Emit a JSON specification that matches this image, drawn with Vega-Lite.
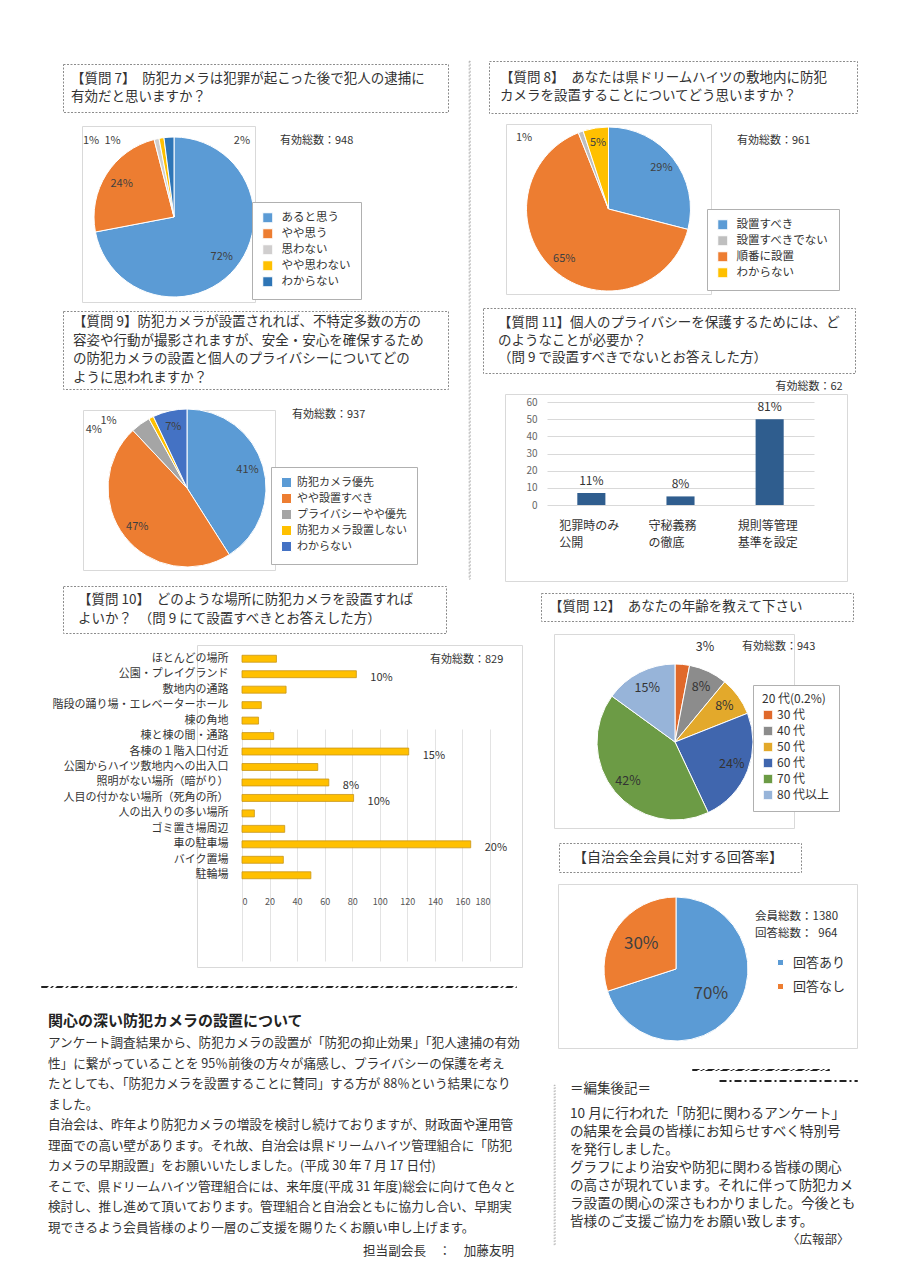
{
"$schema":"https://vega.github.io/schema/vega-lite/v6.json",
"padding":0,
"background":"white",
"spacing":0,
"resolve":{"scale":{"color":"independent","theta":"independent","x":"independent","y":"independent"},"legend":{"color":"independent"},"axis":{"x":"independent","y":"independent"}},
"config":{
 "view":{"stroke":null},
 "font":"Noto Sans CJK JP",
 "text":{"font":"Noto Sans CJK JP","color":"#333333","fontSize":13,"align":"left","baseline":"middle"},
 "title":{"font":"Noto Sans CJK JP","fontWeight":"normal","color":"#333333","fontSize":11,"anchor":"start","frame":"group","baseline":"top","offset":0,"orient":"top"},
 "legend":{"labelFont":"Noto Sans CJK JP","titleFont":"Noto Sans CJK JP","labelColor":"#333333","titleColor":"#333333","labelFontSize":11.5,"symbolType":"square","symbolSize":100,"symbolStrokeWidth":0,"orient":"none","labelLimit":300},
 "axis":{"labelFont":"Noto Sans CJK JP","labelColor":"#555555","domain":false,"ticks":false},
 "arc":{"stroke":"white","strokeWidth":1}
},
"vconcat":[
 {"width":1,"height":60,"data":{"values":[{}]},"mark":{"type":"text","text":""}},
 {"resolve":{"scale":{"color":"independent","theta":"independent","x":"independent","y":"independent"},"legend":{"color":"independent"},"axis":{"x":"independent","y":"independent"}},
  "hconcat":[
  {"width":62,"height":1,"data":{"values":[]},"mark":{"type":"text"}},
  {"resolve":{"scale":{"color":"independent","theta":"independent","x":"independent","y":"independent"},"legend":{"color":"independent"},"axis":{"x":"independent","y":"independent"}},
   "vconcat":[
   {"width":1,"height":2,"data":{"values":[]},"mark":{"type":"text"}},
   {"width":385,"height":48,"view":{"stroke":"#8c8c8c","strokeDash":[2,1.5]},
    "data":{"values":[{"l":0,"t":"【質問 7】　防犯カメラは犯罪が起こった後で犯人の逮捕に"},{"l":1,"t":"\u2002\u2005有効だと思いますか？"}]},
    "mark":{"type":"text","fontSize":13.5},
    "encoding":{"x":{"value":8},"y":{"field":"l","type":"ordinal","axis":null,"scale":{"padding":0.833}},"text":{"field":"t","type":"nominal"}}},
   {"width":1,"height":12,"data":{"values":[]},"mark":{"type":"text"}},
   {"hconcat":[
    {"width":18,"height":1,"data":{"values":[]},"mark":{"type":"text"}},
    {"width":173,"height":176,"view":{"stroke":"#d9d9d9"},
     "title":{"text":"有効総数：948","dx":198,"dy":24},
     "data":{"values":[{"c":"あると思う","v":72,"o":1,"lab":"72%"},{"c":"やや思う","v":24,"o":2,"lab":"24%"},{"c":"思わない","v":1,"o":3,"lab":"1%"},{"c":"やや思わない","v":1,"o":4,"lab":"1%"},{"c":"わからない","v":2,"o":5,"lab":"2%"}]},
     "encoding":{"theta":{"field":"v","type":"quantitative","stack":true},"order":{"field":"o","type":"quantitative"}},
     "layer":[
      {"mark":{"type":"arc","outerRadius":80,"xOffset":5.5,"yOffset":3},
       "encoding":{"color":{"field":"c","type":"nominal","scale":{"domain":["あると思う","やや思う","思わない","やや思わない","わからない"],"range":["#5B9BD5","#ED7D31","#D0CECE","#FFC000","#2E75B6"]},
        "legend":{"legendX":189,"legendY":76,"title":null,"padding":10,"strokeColor":"#b0b0b0","fillColor":"white","rowPadding":1,"labelOffset":8}}}},
      {"mark":{"type":"text","radius":62,"xOffset":5.5,"yOffset":3,"align":"center","fontSize":11,"color":"#404040"},
       "encoding":{"detail":{"field":"c","type":"nominal"},"text":{"condition":{"test":"datum.v >= 5","field":"lab","type":"nominal"},"value":""}}},
      {"transform":[{"stack":"v","groupby":[],"sort":[{"field":"o","order":"ascending"}],"as":["s0","s1"]},{"filter":"datum.c == '思わない'"}],
       "mark":{"type":"text","radius":88,"xOffset":5.5,"yOffset":3,"dx":-61,"dy":9,"align":"center","fontSize":11,"color":"#404040"},
       "encoding":{"theta":{"field":"s0","type":"quantitative","stack":null},"text":{"field":"lab","type":"nominal"}}},
      {"transform":[{"stack":"v","groupby":[],"sort":[{"field":"o","order":"ascending"}],"as":["s0","s1"]},{"filter":"datum.c == 'やや思わない'"}],
       "mark":{"type":"text","radius":88,"xOffset":5.5,"yOffset":3,"dx":-45,"dy":10,"align":"center","fontSize":11,"color":"#404040"},
       "encoding":{"theta":{"field":"s0","type":"quantitative","stack":null},"text":{"field":"lab","type":"nominal"}}},
      {"transform":[{"stack":"v","groupby":[],"sort":[{"field":"o","order":"ascending"}],"as":["s0","s1"]},{"filter":"datum.c == 'わからない'"}],
       "mark":{"type":"text","radius":88,"xOffset":5.5,"yOffset":3,"dx":79,"dy":11,"align":"center","fontSize":11,"color":"#404040"},
       "encoding":{"theta":{"field":"s0","type":"quantitative","stack":null},"text":{"field":"lab","type":"nominal"}}}
     ]}
   ],"spacing":0},
   {"width":1,"height":7,"data":{"values":[]},"mark":{"type":"text"}},
   {"width":385,"height":78,"view":{"stroke":"#8c8c8c","strokeDash":[2,1.5]},
    "data":{"values":[{"l":0,"t":"【質問 9】防犯カメラが設置されれば、不特定多数の方の"},{"l":1,"t":"　容姿や行動が撮影されますが、安全・安心を確保するため"},{"l":2,"t":"　の防犯カメラの設置と個人のプライバシーについてどの"},{"l":3,"t":"　ように思われますか？"}]},
    "mark":{"type":"text","fontSize":13.5},
    "encoding":{"x":{"value":10},"y":{"field":"l","type":"ordinal","axis":null,"scale":{"padding":0.608}},"text":{"field":"t","type":"nominal"}}},
   {"width":1,"height":16,"data":{"values":[]},"mark":{"type":"text"}},
   {"hconcat":[
    {"width":19,"height":1,"data":{"values":[]},"mark":{"type":"text"}},
    {"width":192,"height":160,"view":{"stroke":"#d9d9d9"},
     "title":{"text":"有効総数：937","dx":209,"dy":17},
     "data":{"values":[{"c":"防犯カメラ優先","v":41,"o":1,"lab":"41%"},{"c":"やや設置すべき","v":47,"o":2,"lab":"47%"},{"c":"プライバシーやや優先","v":4,"o":3,"lab":"4%"},{"c":"防犯カメラ設置しない","v":1,"o":4,"lab":"1%"},{"c":"わからない","v":7,"o":5,"lab":"7%"}]},
     "encoding":{"theta":{"field":"v","type":"quantitative","stack":true},"order":{"field":"o","type":"quantitative"}},
     "layer":[
      {"mark":{"type":"arc","outerRadius":79,"xOffset":8,"yOffset":-2},
       "encoding":{"color":{"field":"c","type":"nominal","scale":{"domain":["防犯カメラ優先","やや設置すべき","プライバシーやや優先","防犯カメラ設置しない","わからない"],"range":["#5B9BD5","#ED7D31","#A5A5A5","#FFC000","#4472C4"]},
        "legend":{"legendX":208,"legendY":57,"title":null,"padding":10,"strokeColor":"#b0b0b0","fillColor":"white","rowPadding":1,"labelOffset":5,"labelFontSize":11}}}},
      {"mark":{"type":"text","radius":63,"xOffset":8,"yOffset":-2,"align":"center","fontSize":11,"color":"#404040"},
       "encoding":{"detail":{"field":"c","type":"nominal"},"text":{"condition":{"test":"datum.v >= 5","field":"lab","type":"nominal"},"value":""}}},
      {"transform":[{"stack":"v","groupby":[],"sort":[{"field":"o","order":"ascending"}],"as":["s0","s1"]},{"filter":"datum.c == 'プライバシーやや優先'"}],
       "mark":{"type":"text","radius":88,"xOffset":8,"yOffset":-2,"dx":-33,"dy":6,"align":"center","fontSize":11,"color":"#404040"},
       "encoding":{"theta":{"field":"s0","type":"quantitative","stack":null},"text":{"field":"lab","type":"nominal"}}},
      {"transform":[{"stack":"v","groupby":[],"sort":[{"field":"o","order":"ascending"}],"as":["s0","s1"]},{"filter":"datum.c == '防犯カメラ設置しない'"}],
       "mark":{"type":"text","radius":88,"xOffset":8,"yOffset":-2,"dx":-36,"dy":10,"align":"center","fontSize":11,"color":"#404040"},
       "encoding":{"theta":{"field":"s0","type":"quantitative","stack":null},"text":{"field":"lab","type":"nominal"}}}
     ]}
   ],"spacing":0}
  ],"spacing":0},
  {"width":19,"height":1,"data":{"values":[]},"mark":{"type":"text"}},
  {"width":1,"height":518,"view":{"stroke":"#999999","strokeWidth":0.7,"strokeDash":[2,1.5]},"data":{"values":[]},"mark":{"type":"text"}},
  {"width":11,"height":1,"data":{"values":[]},"mark":{"type":"text"}},
  {"resolve":{"scale":{"color":"independent","theta":"independent","x":"independent","y":"independent"},"legend":{"color":"independent"},"axis":{"x":"independent","y":"independent"}},
   "vconcat":[
   {"hconcat":[
    {"width":5,"height":1,"data":{"values":[]},"mark":{"type":"text"}},
    {"width":368,"height":52,"view":{"stroke":"#8c8c8c","strokeDash":[2,1.5]},
     "data":{"values":[{"l":0,"t":"【質問 8】　あなたは県ドリームハイツの敷地内に防犯"},{"l":1,"t":"カメラを設置することについてどう思いますか？"}]},
     "mark":{"type":"text","fontSize":13.5},
     "encoding":{"x":{"value":11},"y":{"field":"l","type":"ordinal","axis":null,"scale":{"padding":0.944}},"text":{"field":"t","type":"nominal"}}}
   ],"spacing":0},
   {"width":1,"height":9,"data":{"values":[]},"mark":{"type":"text"}},
   {"hconcat":[
    {"width":22,"height":1,"data":{"values":[]},"mark":{"type":"text"}},
    {"width":205,"height":170,"view":{"stroke":"#d9d9d9"},
     "title":{"text":"有効総数：961","dx":231,"dy":26},
     "data":{"values":[{"c":"設置すべき","v":29,"o":1,"lab":"29%"},{"c":"順番に設置","v":65,"o":2,"lab":"65%"},{"c":"設置すべきでない","v":1,"o":3,"lab":"1%"},{"c":"わからない","v":5,"o":4,"lab":"5%"}]},
     "encoding":{"theta":{"field":"v","type":"quantitative","stack":true},"order":{"field":"o","type":"quantitative"}},
     "layer":[
      {"mark":{"type":"arc","outerRadius":82},
       "encoding":{"color":{"field":"c","type":"nominal","scale":{"domain":["設置すべき","設置すべきでない","順番に設置","わからない"],"range":["#5B9BD5","#BFBFBF","#ED7D31","#FFC000"]},
        "legend":{"legendX":224,"legendY":85,"title":null,"padding":10,"strokeColor":"#b0b0b0","fillColor":"white","rowPadding":1,"labelOffset":8}}}},
      {"mark":{"type":"text","radius":67,"align":"center","fontSize":11,"color":"#404040"},
       "encoding":{"detail":{"field":"c","type":"nominal"},"text":{"condition":{"test":"datum.v >= 5","field":"lab","type":"nominal"},"value":""}}},
      {"transform":[{"stack":"v","groupby":[],"sort":[{"field":"o","order":"ascending"}],"as":["s0","s1"]},{"filter":"datum.c == '設置すべきでない'"}],
       "mark":{"type":"text","radius":88,"dx":-52,"dy":11,"align":"center","fontSize":11,"color":"#404040"},
       "encoding":{"theta":{"field":"s0","type":"quantitative","stack":null},"text":{"field":"lab","type":"nominal"}}}
     ]}
   ],"spacing":0},
   {"width":1,"height":12,"data":{"values":[]},"mark":{"type":"text"}},
   {"width":372,"height":65,"view":{"stroke":"#8c8c8c","strokeDash":[2,1.5]},
    "data":{"values":[{"l":0,"t":"【質問 11】個人のプライバシーを保護するためには、ど"},{"l":1,"t":"\u2002のようなことが必要か？"},{"l":2,"t":"　　　（問 9 で設置すべきでないとお答えした方）"}]},
    "mark":{"type":"text","fontSize":13.5},
    "encoding":{"x":{"value":15},"y":{"field":"l","type":"ordinal","axis":null,"scale":{"padding":0.857}},"text":{"field":"t","type":"nominal"}}},
   {"width":1,"height":7,"data":{"values":[]},"mark":{"type":"text"}},
   {"hconcat":[
    {"width":292,"height":1,"data":{"values":[]},"mark":{"type":"text"}},
    {"width":66,"height":12,"data":{"values":[{"t":"有効総数：62"}]},"mark":{"type":"text","align":"center","fontSize":11},"encoding":{"text":{"field":"t","type":"nominal"}}}
   ],"spacing":0},
   {"hconcat":[
    {"width":21,"height":1,"data":{"values":[]},"mark":{"type":"text"}},
    {"width":342,"height":187,"view":{"stroke":"#d9d9d9"},
     "data":{"values":[{"c":"犯罪時のみ|公開","v":7,"p":"11%"},{"c":"守秘義務|の徹底","v":5,"p":"8%"},{"c":"規則等管理|基準を設定","v":50,"p":"81%"}]},
     "encoding":{
      "x":{"field":"c","type":"nominal","sort":null,"scale":{"range":[42,309],"paddingInner":0.685,"paddingOuter":0.34},
       "axis":{"title":null,"offset":-76,"labelAngle":0,"labelExpr":"split(datum.label,'|')","labelAlign":"left","labelOffset":-32,"labelBaseline":"top","labelPadding":15,"labelFontSize":12,"labelColor":"#333333","labelLineHeight":17}},
      "y":{"field":"v","type":"quantitative","scale":{"domain":[0,60],"range":[111,8]},
       "axis":{"title":null,"offset":-36,"values":[0,10,20,30,40,50,60],"labelFontSize":10,"labelColor":"#666666","labelPadding":4,"grid":true,"gridColor":"#d9d9d9"}}
     },
     "layer":[
      {"mark":{"type":"bar","color":"#2F5D8E"}},
      {"mark":{"type":"text","align":"center","baseline":"bottom","dy":-5,"fontSize":12},"encoding":{"text":{"field":"p","type":"nominal"}}}
     ]}
   ],"spacing":0}
  ],"spacing":0}
 ],"spacing":0},
 {"resolve":{"scale":{"color":"independent","theta":"independent","x":"independent","y":"independent"},"legend":{"color":"independent"},"axis":{"x":"independent","y":"independent"}},
  "hconcat":[
  {"resolve":{"scale":{"color":"independent","theta":"independent","x":"independent","y":"independent"},"legend":{"color":"independent"},"axis":{"x":"independent","y":"independent"}},
   "vconcat":[
   {"width":540,"height":3,"data":{"values":[]},"mark":{"type":"text"}},
   {"hconcat":[
    {"width":62,"height":1,"data":{"values":[]},"mark":{"type":"text"}},
    {"width":383,"height":47,"view":{"stroke":"#8c8c8c","strokeDash":[2,1.5]},
     "data":{"values":[{"l":0,"t":"【質問 10】　どのような場所に防犯カメラを設置すれば"},{"l":1,"t":"　　\u2002よいか？　（問 9 にて設置すべきとお答えした方）"}]},
     "mark":{"type":"text","fontSize":13.5},
     "encoding":{"x":{"value":15},"y":{"field":"l","type":"ordinal","axis":null,"scale":{"padding":0.737}},"text":{"field":"t","type":"nominal"}}}
   ],"spacing":0},
   {"width":1,"height":10,"data":{"values":[]},"mark":{"type":"text"}},
   {"hconcat":[
    {"width":197,"height":1,"data":{"values":[]},"mark":{"type":"text"}},
    {"width":325,"height":322,"view":{"stroke":"#d9d9d9"},
     "title":{"text":"有効総数：829","dx":233,"dy":24},
     "data":{"values":[
      {"c":"ほとんどの場所","v":25},
      {"c":"公園・プレイグランド","v":83,"p":"10%"},
      {"c":"敷地内の通路","v":32},
      {"c":"階段の踊り場・エレベーターホール","v":14},
      {"c":"棟の角地","v":12},
      {"c":"棟と棟の間・通路","v":23},
      {"c":"各棟の１階入口付近","v":121,"p":"15%"},
      {"c":"公園からハイツ敷地内への出入口","v":55},
      {"c":"照明がない場所（暗がり）","v":63,"p":"8%"},
      {"c":"人目の付かない場所（死角の所）","v":81,"p":"10%"},
      {"c":"人の出入りの多い場所","v":9},
      {"c":"ゴミ置き場周辺","v":31},
      {"c":"車の駐車場","v":166,"p":"20%"},
      {"c":"バイク置場","v":30},
      {"c":"駐輪場","v":50}]},
     "encoding":{
      "y":{"field":"c","type":"nominal","sort":null,"scale":{"range":[6,238],"paddingInner":0.55,"paddingOuter":0.275},
       "axis":{"title":null,"offset":-33,"labelFontSize":11,"labelColor":"#333333","labelPadding":2,"labelLimit":300}},
      "x":{"field":"v","type":"quantitative","scale":{"domain":[0,180],"range":[45,293]},
       "axis":{"title":null,"offset":-75,"values":[0,20,40,60,80,100,120,140,160,180],"labelFontSize":9,"labelColor":"#555555","grid":true,"gridColor":"#e3e3e3","labelPadding":5}}
     },
     "layer":[
      {"mark":{"type":"bar","color":"#FFC000","stroke":"#C8961A","strokeWidth":0.8}},
      {"transform":[{"filter":"datum.p"}],"mark":{"type":"text","align":"left","dx":14,"dy":4,"fontSize":11},"encoding":{"text":{"field":"p","type":"nominal"}}}
     ]}
   ],"spacing":0,"bounds":"flush"},
   {"width":1,"height":17,"data":{"values":[]},"mark":{"type":"text"}},
   {"hconcat":[
    {"width":40,"height":1,"data":{"values":[]},"mark":{"type":"text"}},
    {"width":475,"height":1,"view":{"stroke":"#222222","strokeWidth":1,"strokeDash":[7,3,2,3]},"data":{"values":[]},"mark":{"type":"text"}}
   ],"spacing":0},
   {"width":1,"height":24,"data":{"values":[]},"mark":{"type":"text"}},
   {"hconcat":[
    {"width":48,"height":1,"data":{"values":[]},"mark":{"type":"text"}},
    {"width":300,"height":18,"data":{"values":[{"t":"関心の深い防犯カメラの設置について"}]},"mark":{"type":"text","fontSize":15,"fontWeight":"bold","color":"#222222"},"encoding":{"x":{"value":0},"text":{"field":"t","type":"nominal"}}}
   ],"spacing":0},
   {"width":1,"height":3,"data":{"values":[]},"mark":{"type":"text"}},
   {"hconcat":[
    {"width":48,"height":1,"data":{"values":[]},"mark":{"type":"text"}},
    {"width":482,"height":205,
     "data":{"values":[
      {"l":0,"t":"アンケート調査結果から、防犯カメラの設置が「防犯の抑止効果」「犯人逮捕の有効"},
      {"l":1,"t":"性」に繋がっていることを 95％前後の方々が痛感し、プライバシーの保護を考え"},
      {"l":2,"t":"たとしても、「防犯カメラを設置することに賛同」する方が 88％という結果になり"},
      {"l":3,"t":"ました。"},
      {"l":4,"t":"自治会は、昨年より防犯カメラの増設を検討し続けておりますが、財政面や運用管"},
      {"l":5,"t":"理面での高い壁があります。それ故、自治会は県ドリームハイツ管理組合に「防犯"},
      {"l":6,"t":"カメラの早期設置」をお願いいたしました。(平成 30 年 7 月 17 日付)"},
      {"l":7,"t":"そこで、県ドリームハイツ管理組合には、来年度(平成 31 年度)総会に向けて色々と"},
      {"l":8,"t":"検討し、推し進めて頂いております。管理組合と自治会ともに協力し合い、早期実"},
      {"l":9,"t":"現できるよう会員皆様のより一層のご支援を賜りたくお願い申し上げます。"}]},
     "mark":{"type":"text","fontSize":12.6},
     "encoding":{"x":{"value":0},"y":{"field":"l","type":"ordinal","axis":null},"text":{"field":"t","type":"nominal"}}}
   ],"spacing":0},
   {"hconcat":[
    {"width":363,"height":1,"data":{"values":[]},"mark":{"type":"text"}},
    {"width":160,"height":26,"data":{"values":[{"t":"担当副会長　：　加藤友明"}]},"mark":{"type":"text","fontSize":12.6},"encoding":{"x":{"value":0},"text":{"field":"t","type":"nominal"}}}
   ],"spacing":0}
  ],"spacing":0},
  {"resolve":{"scale":{"color":"independent","theta":"independent","x":"independent","y":"independent"},"legend":{"color":"independent"},"axis":{"x":"independent","y":"independent"}},
   "vconcat":[
   {"width":1,"height":10,"data":{"values":[]},"mark":{"type":"text"}},
   {"width":312,"height":28,"view":{"stroke":"#8c8c8c","strokeDash":[2,1.5]},
    "data":{"values":[{"t":"【質問 12】　あなたの年齢を教えて下さい"}]},
    "mark":{"type":"text","fontSize":13.5},
    "encoding":{"x":{"value":8},"text":{"field":"t","type":"nominal"}}},
   {"width":1,"height":11,"data":{"values":[]},"mark":{"type":"text"}},
   {"hconcat":[
    {"width":12,"height":1,"data":{"values":[]},"mark":{"type":"text"}},
    {"width":240,"height":194,"view":{"stroke":"#d9d9d9"},
     "title":{"text":"有効総数：943","dx":188,"dy":22},
     "data":{"values":[{"c":"30 代","v":3,"o":1,"lab":"3%"},{"c":"40 代","v":8,"o":2,"lab":"8%"},{"c":"50 代","v":8,"o":3,"lab":"8%"},{"c":"60 代","v":24,"o":4,"lab":"24%"},{"c":"70 代","v":42,"o":5,"lab":"42%"},{"c":"80 代以上","v":15,"o":6,"lab":"15%"}]},
     "encoding":{"theta":{"field":"v","type":"quantitative","stack":true},"order":{"field":"o","type":"quantitative"}},
     "layer":[
      {"mark":{"type":"arc","outerRadius":78,"xOffset":1,"yOffset":11},
       "encoding":{"color":{"field":"c","type":"nominal","scale":{"domain":["30 代","40 代","50 代","60 代","70 代","80 代以上"],"range":["#E0692B","#8C8C8C","#E3A92B","#4066AE","#6C9B45","#97B4D9"]},
        "legend":{"legendX":212,"legendY":51,"title":"20 代(0.2%)","titleFontSize":12,"titleFontWeight":"normal","titlePadding":3,"padding":9,"strokeColor":"#b0b0b0","fillColor":"white","rowPadding":2,"labelOffset":3,"labelFontSize":12,"symbolSize":90}}}},
      {"mark":{"type":"text","radius":61,"xOffset":1,"yOffset":11,"align":"center","fontSize":12.5,"color":"#333333"},
       "encoding":{"detail":{"field":"c","type":"nominal"},"text":{"condition":{"test":"datum.v >= 5","field":"lab","type":"nominal"},"value":""}}},
      {"transform":[{"stack":"v","groupby":[],"sort":[{"field":"o","order":"ascending"}],"as":["s0","s1"]},{"filter":"datum.c == '30 代'"}],
       "mark":{"type":"text","radius":98,"xOffset":1,"yOffset":11,"dx":30,"dy":3,"align":"center","fontSize":12.5,"color":"#333333"},
       "encoding":{"theta":{"field":"s0","type":"quantitative","stack":null},"text":{"field":"lab","type":"nominal"}}}
     ]}
   ],"spacing":0},
   {"width":1,"height":13,"data":{"values":[]},"mark":{"type":"text"}},
   {"hconcat":[
    {"width":17,"height":1,"data":{"values":[]},"mark":{"type":"text"}},
    {"width":242,"height":29,"view":{"stroke":"#8c8c8c","strokeDash":[2,1.5]},
     "data":{"values":[{"t":"【自治会全会員に対する回答率】"}]},
     "mark":{"type":"text","fontSize":14},
     "encoding":{"x":{"value":14},"text":{"field":"t","type":"nominal"}}}
   ],"spacing":0},
   {"width":1,"height":10,"data":{"values":[]},"mark":{"type":"text"}},
   {"hconcat":[
    {"width":16,"height":1,"data":{"values":[]},"mark":{"type":"text"}},
    {"width":299,"height":164,"view":{"stroke":"#d9d9d9"},
     "title":{"text":["会員総数：1380","回答総数：\u2002964"],"dx":197,"dy":59,"lineHeight":17,"fontSize":11.5},
     "data":{"values":[{"c":"回答あり","v":70,"o":1,"lab":"70%"},{"c":"回答なし","v":30,"o":2,"lab":"30%"}]},
     "encoding":{"theta":{"field":"v","type":"quantitative","stack":true},"order":{"field":"o","type":"quantitative"}},
     "layer":[
      {"mark":{"type":"arc","outerRadius":72,"xOffset":-31.5,"yOffset":3},
       "encoding":{"color":{"field":"c","type":"nominal","scale":{"domain":["回答あり","回答なし"],"range":["#5B9BD5","#ED7D31"]},
        "legend":{"legendX":233,"legendY":72,"title":null,"padding":0,"rowPadding":10,"labelOffset":6,"labelFontSize":13,"symbolSize":36}}}},
      {"mark":{"type":"text","radius":43,"xOffset":-31.5,"yOffset":3,"align":"center","fontSize":17,"color":"#404040"},
       "encoding":{"detail":{"field":"c","type":"nominal"},"text":{"field":"lab","type":"nominal"}}}
     ]}
   ],"spacing":0},
   {"width":1,"height":19,"data":{"values":[]},"mark":{"type":"text"}},
   {"hconcat":[
    {"width":150,"height":1,"data":{"values":[]},"mark":{"type":"text"}},
    {"width":137,"height":1,"view":{"stroke":"#222222","strokeWidth":1,"strokeDash":[7,3,2,3]},"data":{"values":[]},"mark":{"type":"text"}}
   ],"spacing":0},
   {"width":1,"height":8,"data":{"values":[]},"mark":{"type":"text"}},
   {"hconcat":[
    {"width":177,"height":1,"data":{"values":[]},"mark":{"type":"text"}},
    {"width":138,"height":1,"view":{"stroke":"#222222","strokeWidth":1,"strokeDash":[7,3,2,3]},"data":{"values":[]},"mark":{"type":"text"}}
   ],"spacing":0},
   {"resolve":{"scale":{"x":"independent","y":"independent"},"axis":{"x":"independent","y":"independent"}},
    "hconcat":[
    {"width":12,"height":1,"data":{"values":[]},"mark":{"type":"text"}},
    {"vconcat":[
     {"width":1,"height":2,"data":{"values":[]},"mark":{"type":"text"}},
     {"width":1,"height":160,"view":{"stroke":"#999999","strokeWidth":0.7,"strokeDash":[1.5,1.5]},"data":{"values":[]},"mark":{"type":"text"}}
    ],"spacing":0},
    {"width":14,"height":1,"data":{"values":[]},"mark":{"type":"text"}},
    {"resolve":{"scale":{"x":"independent","y":"independent"},"axis":{"x":"independent","y":"independent"}},
     "vconcat":[
     {"width":120,"height":14,"data":{"values":[{"t":"＝編集後記＝"}]},"mark":{"type":"text","fontSize":13.5},"encoding":{"x":{"value":0},"text":{"field":"t","type":"nominal"}}},
     {"width":1,"height":9,"data":{"values":[]},"mark":{"type":"text"}},
     {"width":290,"height":126,
      "data":{"values":[
       {"l":0,"t":"10 月に行われた「防犯に関わるアンケート」"},
       {"l":1,"t":"の結果を会員の皆様にお知らせすべく特別号"},
       {"l":2,"t":"を発行しました。"},
       {"l":3,"t":"グラフにより治安や防犯に関わる皆様の関心"},
       {"l":4,"t":"の高さが現れています。それに伴って防犯カメ"},
       {"l":5,"t":"ラ設置の関心の深さもわかりました。今後とも"},
       {"l":6,"t":"皆様のご支援ご協力をお願い致します。"}]},
      "mark":{"type":"text","fontSize":13.6},
      "encoding":{"x":{"value":0},"y":{"field":"l","type":"ordinal","axis":null},"text":{"field":"t","type":"nominal"}}},
     {"width":1,"height":2,"data":{"values":[]},"mark":{"type":"text"}},
     {"hconcat":[
      {"width":217,"height":1,"data":{"values":[]},"mark":{"type":"text"}},
      {"width":60,"height":14,"data":{"values":[{"t":"〈広報部〉"}]},"mark":{"type":"text","fontSize":12.5},"encoding":{"x":{"value":0},"text":{"field":"t","type":"nominal"}}}
     ],"spacing":0}
    ],"spacing":0}
   ],"spacing":0}
  ],"spacing":0}
 ],"spacing":0}
]
}
